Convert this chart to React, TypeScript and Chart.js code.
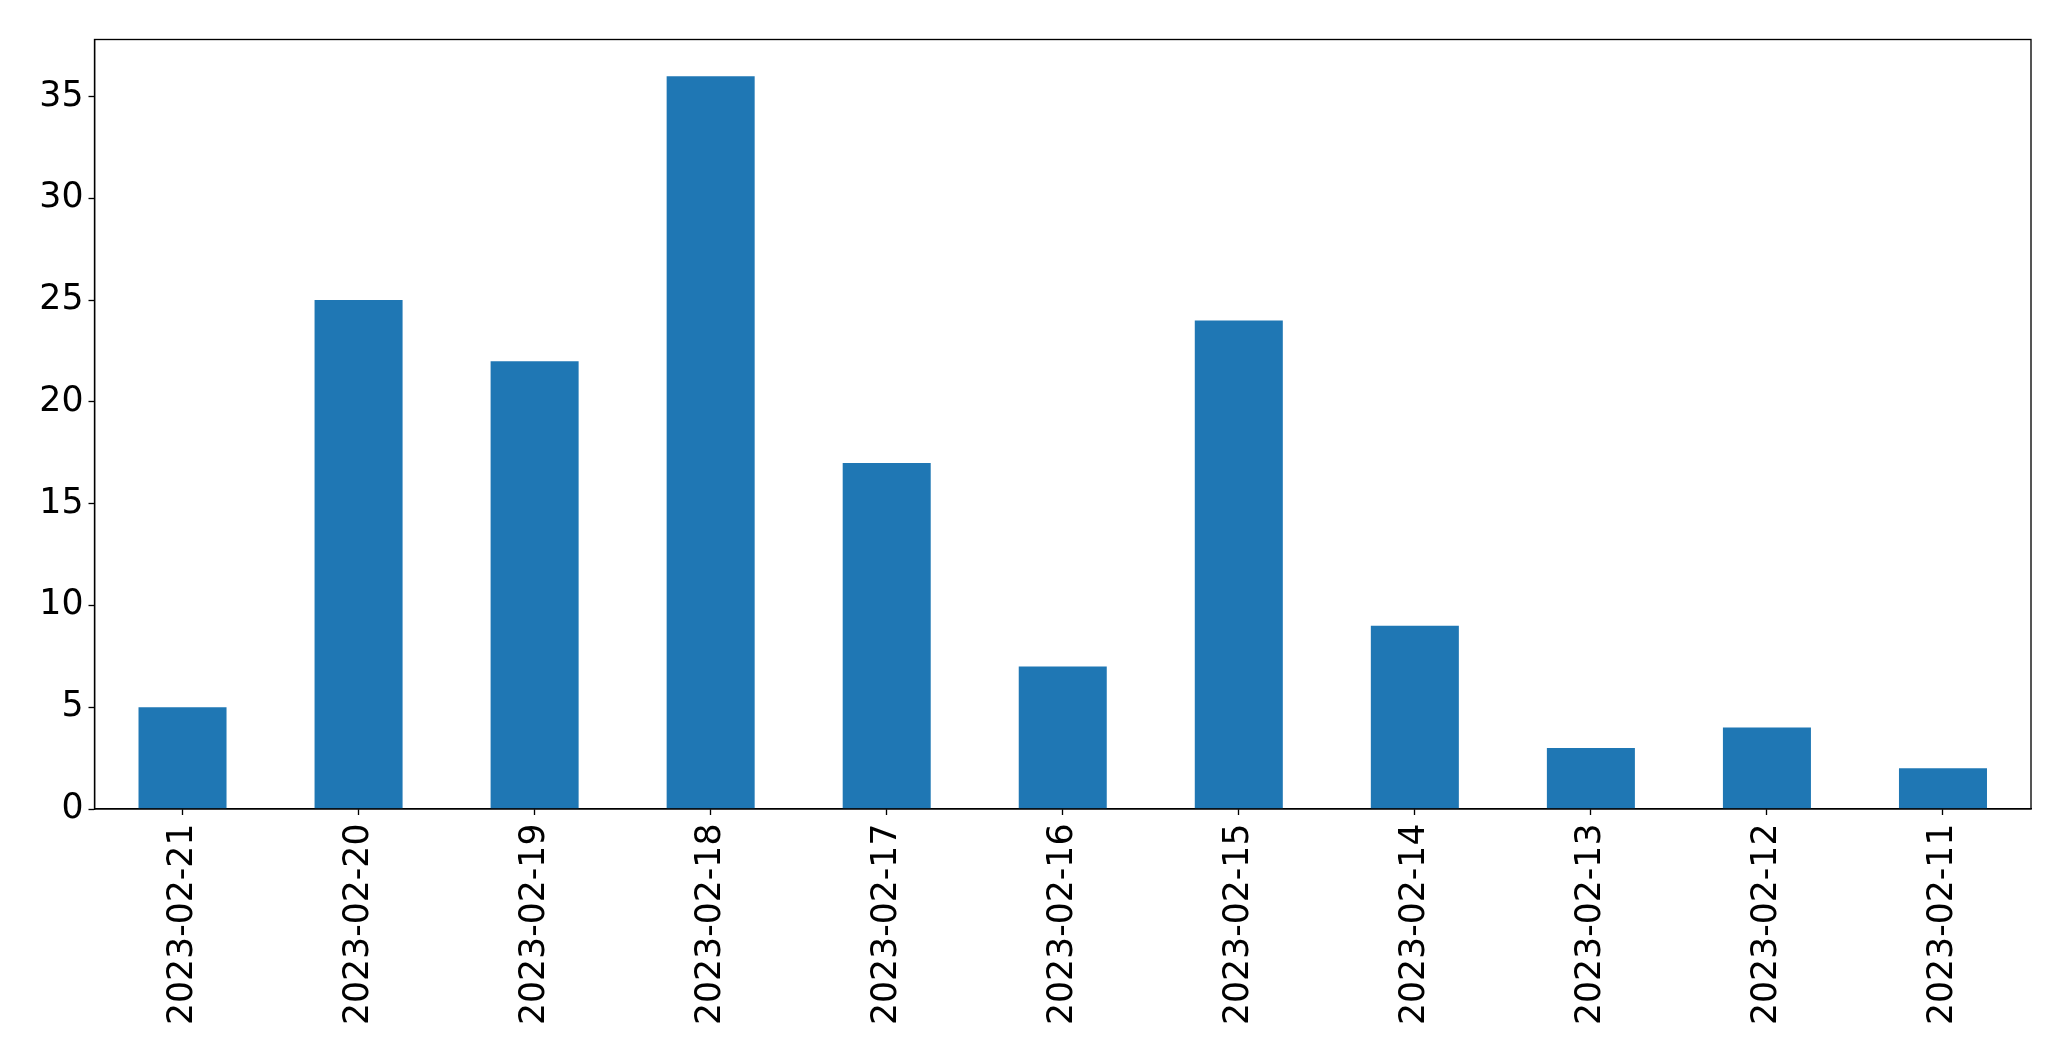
import React, { useEffect, useRef } from "react";
import { Chart, registerables } from "chart.js";

Chart.register(...registerables);

const categories = [
  "2023-02-21",
  "2023-02-20",
  "2023-02-19",
  "2023-02-18",
  "2023-02-17",
  "2023-02-16",
  "2023-02-15",
  "2023-02-14",
  "2023-02-13",
  "2023-02-12",
  "2023-02-11",
];
const counts = [5, 25, 22, 36, 17, 7, 24, 9, 3, 4, 2];
const yTickStep = 5;

const W = 2071;
const H = 1061;
const LEFT = 94.5;
const TOP = 39.5;
const RIGHT = 2031;
const BOTTOM = 809;
const FONT = "'DejaVu Sans', sans-serif";
const FONT_SIZE = 34.7;
const LW = 1.33;

const framePlugin = {
  id: "frame",
  afterDraw(chart: any) {
    const { ctx, chartArea } = chart;
    ctx.save();
    ctx.strokeStyle = "#000";
    ctx.lineWidth = LW;
    ctx.strokeRect(
      chartArea.left,
      chartArea.top,
      chartArea.right - chartArea.left,
      chartArea.bottom - chartArea.top
    );
    ctx.restore();
  },
};

export default function App() {
  const ref = useRef<HTMLCanvasElement | null>(null);
  useEffect(() => {
    if (!ref.current) return;
    const maxVal = Math.max(...counts) * 1.05;
    const chart = new Chart(ref.current, {
      type: "bar",
      data: {
        labels: categories,
        datasets: [
          {
            data: counts,
            backgroundColor: "#1f77b4",
            borderWidth: 0,
            barPercentage: 0.5,
            categoryPercentage: 1,
          },
        ],
      },
      plugins: [framePlugin],
      options: {
        animation: false,
        responsive: false,
        devicePixelRatio: 1,
        layout: { padding: { top: TOP, right: W - RIGHT, left: 0, bottom: 0 } },
        plugins: { legend: { display: false }, tooltip: { enabled: false } },
        scales: {
          x: {
            offset: true,
            grid: {
              offset: false,
              drawOnChartArea: false,
              drawTicks: true,
              tickLength: 6,
              tickColor: "#000",
              tickWidth: LW,
            },
            border: { display: true, color: "#000", width: LW },
            ticks: {
              color: "#000",
              font: { family: FONT, size: FONT_SIZE },
              maxRotation: 90,
              minRotation: 90,
              autoSkip: false,
              padding: 8.5,
            },
            afterFit(scale: any) {
              scale.height = H - BOTTOM;
            },
          },
          y: {
            min: 0,
            max: maxVal,
            grid: {
              drawOnChartArea: false,
              drawTicks: true,
              tickLength: 6,
              tickColor: "#000",
              tickWidth: LW,
            },
            border: { display: true, color: "#000", width: LW },
            ticks: {
              stepSize: yTickStep,
              includeBounds: false,
              color: "#000",
              font: { family: FONT, size: FONT_SIZE },
              padding: 5,
            },
            afterFit(scale: any) {
              scale.width = LEFT;
            },
          },
        },
      },
    });
    return () => chart.destroy();
  }, []);
  return (
    <div style={{ position: "fixed", left: 0, top: 0, width: W, height: H, background: "#fff" }}>
      <canvas ref={ref} width={W} height={H} style={{ display: "block" }} />
    </div>
  );
}
